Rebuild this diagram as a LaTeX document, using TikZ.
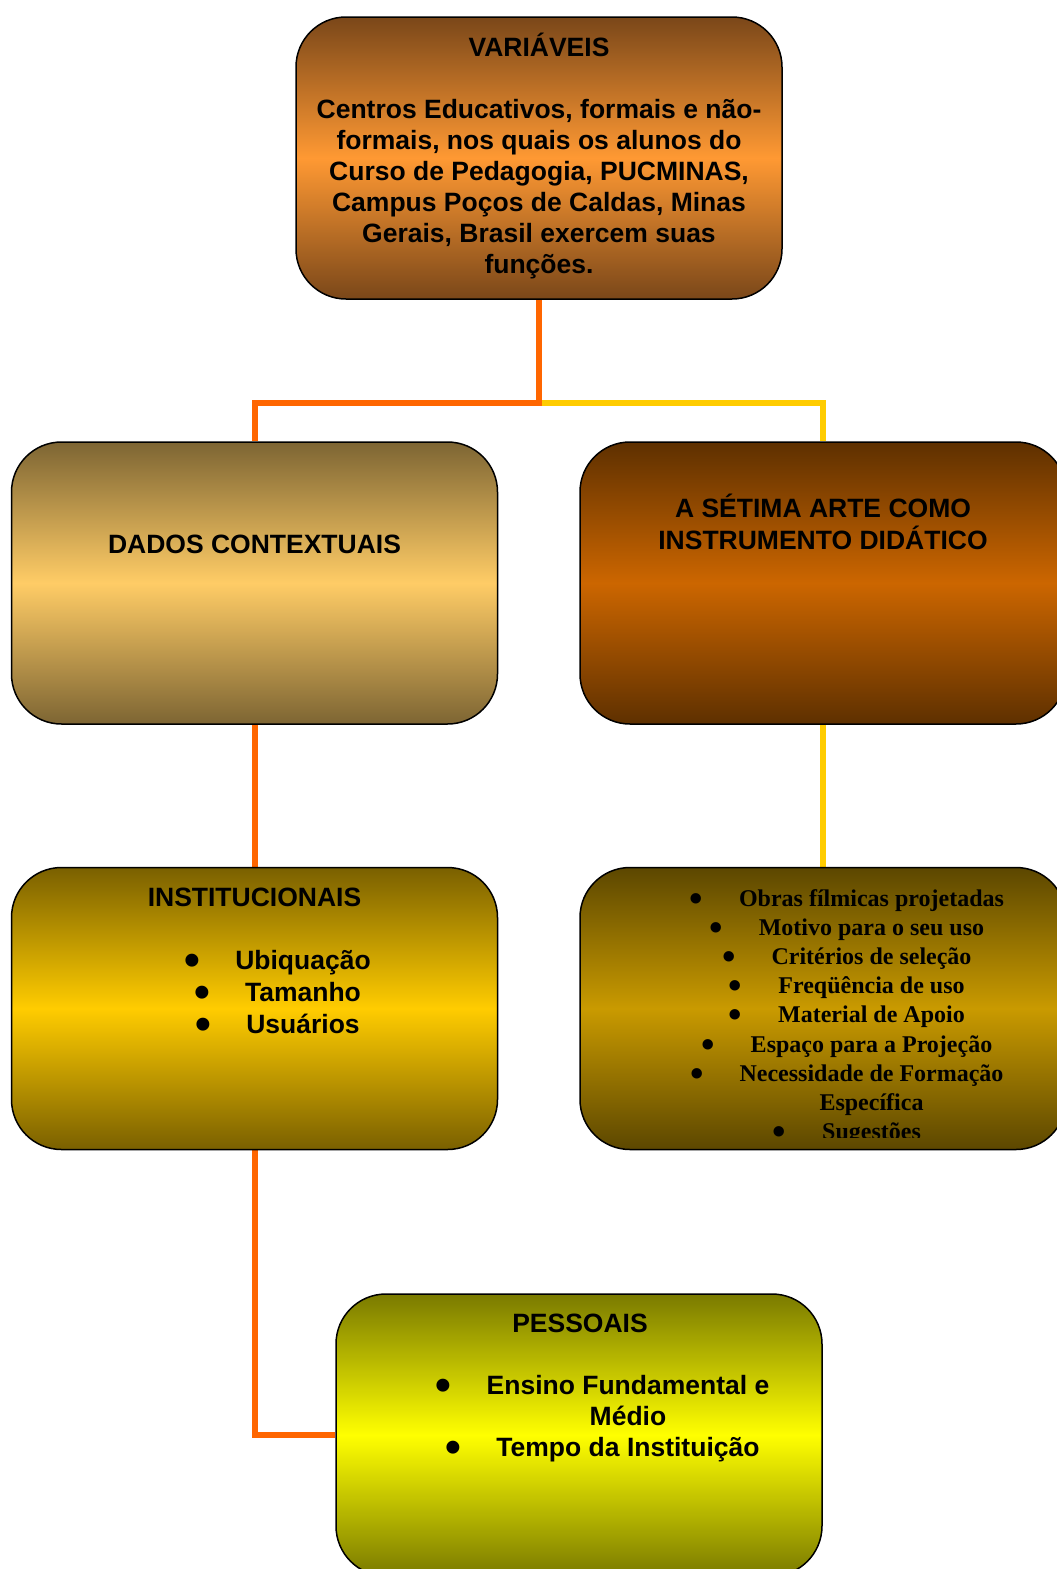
\documentclass[tikz,border=0pt]{standalone}
\usepackage{fontspec}
\setmainfont{Liberation Sans}
\newfontfamily\serifft{Liberation Serif}
\usepackage{graphicx}
\pgfdeclarelayer{bg}
\pgfdeclarelayer{paper}
\pgfsetlayers{paper,bg,main}
\definecolor{orangec}{HTML}{FF6600}
\definecolor{yellowc}{HTML}{FFCC00}
\definecolor{varD}{HTML}{7A4719}
\definecolor{varL}{HTML}{FF9933}
\definecolor{dadD}{HTML}{7D6533}
\definecolor{dadL}{HTML}{FFCC66}
\definecolor{setD}{HTML}{5E3000}
\definecolor{setL}{HTML}{CC6600}
\definecolor{insD}{HTML}{7A6000}
\definecolor{insL}{HTML}{FFCC00}
\definecolor{rbD}{HTML}{5C4700}
\definecolor{rbL}{HTML}{C99A00}
\definecolor{pesD}{HTML}{7A7A00}
\definecolor{pesL}{HTML}{FFFF00}
\newcommand\mylines[1]{\begin{tabular}[t]{@{}c@{}}#1\end{tabular}}
\newcommand\bul{\llap{\raisebox{-6pt}{\scalebox{1.7}{•}}\hspace{35pt}}}
\newcommand\sbul{\llap{\raisebox{-5pt}{\scalebox{1.6}{•}}\hspace{36pt}}}
\begin{document}
\begin{tikzpicture}[x=1pt,y=-1pt,
  box/.style={draw=black, line width=1.5pt, rounded corners=50pt,
    minimum width=486pt, minimum height=282pt, inner sep=0pt},
  conn/.style={line width=6pt},
  txt/.style={inner sep=0pt, anchor=base, font=\bfseries\fontsize{26.5}{31}\selectfont}]
\useasboundingbox (0,0) rectangle (1057,1569);
\begin{pgfonlayer}{paper}
\fill[white] (0,0) rectangle (1057,1569);
\end{pgfonlayer}
\clip (0,0) rectangle (1057,1569);

\node[box, top color=varD, bottom color=varD, middle color=varL] (var) at (539,158) {};
\node[box, top color=dadD, bottom color=dadD, middle color=dadL] (dados) at (254.5,583) {};
\node[box, top color=setD, bottom color=setD, middle color=setL] (setima) at (823,583) {};
\node[box, top color=insD, bottom color=insD, middle color=insL] (inst) at (254.5,1008.5) {};
\node[box, top color=rbD, bottom color=rbD, middle color=rbL] (rb) at (823,1008.5) {};
\node[box, top color=pesD, bottom color=pesD, middle color=pesL] (pess) at (579,1435) {};

\coordinate (j) at (539,403);
\begin{pgfonlayer}{bg}
\draw[conn, yellowc] (j) -| (setima.north);
\draw[conn, orangec] (var.south) -- (j) -| (dados.north);
\draw[conn, orangec] (dados.south) -- (inst.north);
\draw[conn, yellowc] (setima.south) -- (rb.north);
\draw[conn, orangec] (inst.south) |- (pess.west);
\end{pgfonlayer}

\node[txt] (tvar) at (539,56) {\mylines{VARIÁVEIS\\ \\ Centros Educativos, formais e não-\\ formais, nos quais os alunos do\\ Curso de Pedagogia, PUCMINAS,\\ Campus Poços de Caldas, Minas\\ Gerais, Brasil exercem suas\\ funções.}};
\node[txt] (tdados) at (254.5,553) {DADOS CONTEXTUAIS};
\node[txt] (tset) at (823,517) {\mylines{A SÉTIMA ARTE COMO\\ INSTRUMENTO DIDÁTICO}};
\node[txt] (tinst) at (254.5,906) {INSTITUCIONAIS};
\node[txt, font=\bfseries\fontsize{26.5}{32}\selectfont] (linst) at (303,969) {\mylines{\bul Ubiquação\\ \bul Tamanho\\ \bul Usuários}};
\node[txt] (tpess) at (580,1332) {PESSOAIS};
\node[txt] (lpess) at (628,1394) {\mylines{\bul Ensino Fundamental e\\ Médio\\ \bul Tempo da Instituição}};
\begin{scope}
\clip (580,867) rectangle (1057,1137);
\node[txt, font=\serifft\bfseries\fontsize{24}{29.2}\selectfont] (lrb) at (871.5,906) {\mylines{\sbul Obras fílmicas projetadas\\ \sbul Motivo para o seu uso\\ \sbul Critérios de seleção\\ \sbul Freqüência de uso\\ \sbul Material de Apoio\\ \sbul Espaço para a Projeção\\ \sbul Necessidade de Formação\\ Específica\\ \sbul Sugestões}};
\end{scope}
\end{tikzpicture}
\end{document}
